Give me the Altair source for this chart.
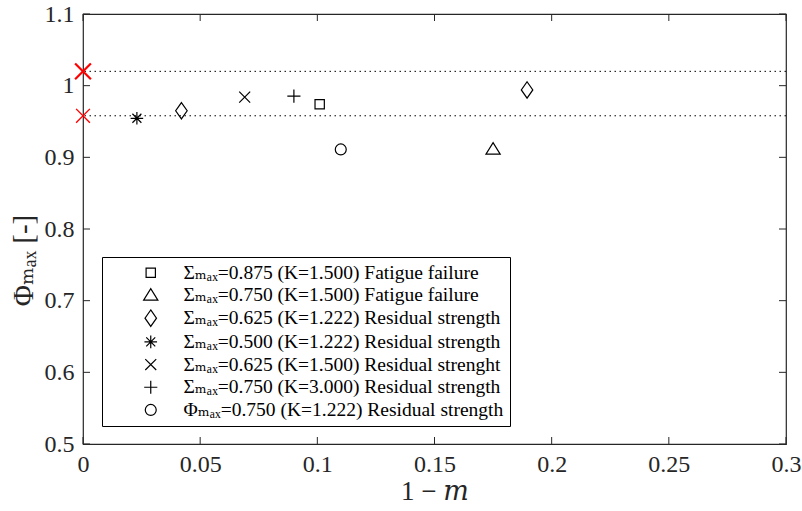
import altair as alt
import pandas as pd

# ---- data ----
series_labels = [
    "Σₘₐₓ=0.875 (K=1.500) Fatigue failure",
    "Σₘₐₓ=0.750 (K=1.500) Fatigue failure",
    "Σₘₐₓ=0.625 (K=1.222) Residual strength",
    "Σₘₐₓ=0.500 (K=1.222) Residual strength",
    "Σₘₐₓ=0.625 (K=1.500) Residual strenght",
    "Σₘₐₓ=0.750 (K=3.000) Residual strength",
    "Φₘₐₓ=0.750 (K=1.222) Residual strength",
]
point_series = [0, 1, 2, 2, 3, 4, 5, 6]
point_x = [0.101, 0.175, 0.042, 0.1895, 0.023, 0.069, 0.090, 0.110]
point_y = [0.974, 0.911, 0.965, 0.994, 0.9545, 0.984, 0.9855, 0.911]

ref_upper = [1.02]
ref_lower = [0.958]
ref_x = [0.0]

x_ticks = [0, 0.05, 0.1, 0.15, 0.2, 0.25, 0.3]
y_ticks = [0.5, 0.6, 0.7, 0.8, 0.9, 1.0, 1.1]

# marker shapes (unit box paths)
shape_paths = [
    "M-0.85,-0.85L0.85,-0.85L0.85,0.85L-0.85,0.85Z",                # square
    "M-1.3,0.85L1.3,0.85L0,-1.25Z",                                 # triangle
    "M0,-1.5L1.05,0L0,1.5L-1.05,0Z",                                # diamond
    "M-1.15,0L1.15,0M0,-1.15L0,1.15M-0.82,-0.82L0.82,0.82M-0.82,0.82L0.82,-0.82",  # asterisk
    "M-1,-1L1,1M-1,1L1,-1",                                         # x
    "M-1.2,0L1.2,0M0,-1.2L0,1.2",                                   # plus
    "circle",
]

W, H = 703, 430
FONT = "'Liberation Serif', 'Times New Roman', 'DejaVu Serif', serif"

pts = pd.DataFrame({
    "x": point_x,
    "y": point_y,
    "series": [series_labels[i] for i in point_series],
})
ref_df = pd.DataFrame({"y": ref_upper + ref_lower})
up_df = pd.DataFrame({"x": ref_x, "y": ref_upper})
lo_df = pd.DataFrame({"x": ref_x, "y": ref_lower})
xt = pd.DataFrame({"x": x_ticks})
yt = pd.DataFrame({"y": y_ticks})

xscale = alt.Scale(domain=[0, 0.3], nice=False, zero=False)
yscale = alt.Scale(domain=[0.5, 1.1], nice=False, zero=False)

xaxis = alt.Axis(values=x_ticks, format="~g", ticks=False, tickSize=0, domain=False, grid=False,
                 labelFlush=False, labelOverlap=False,
                 labelFont=FONT, labelFontSize=24, labelColor="#262626", labelPadding=8,
                 title="1 − 𝑚", titleFont=FONT, titleFontSize=27, titleFontWeight="normal",
                 titleColor="#262626", titlePadding=2)
yaxis = alt.Axis(values=y_ticks, format="~g", ticks=False, tickSize=0, domain=False, grid=False,
                 labelFlush=False, labelOverlap=False,
                 labelFont=FONT, labelFontSize=24, labelColor="#262626", labelPadding=9,
                 title="Φₘₐₓ  [-]", titleFont=FONT, titleFontSize=29, titleFontWeight="normal",
                 titleColor="#262626", titleAngle=-90, titleX=-60, titleY=246,
                 titleAlign="center", titleBaseline="middle")

dotted = alt.Chart(ref_df).mark_rule(color="black", strokeWidth=1, strokeDash=[1.5, 3.5]).encode(
    y=alt.Y("y:Q", scale=yscale, axis=yaxis)
)

points = alt.Chart(pts).mark_point(filled=False, color="black", strokeWidth=1.2, size=120, opacity=1).encode(
    x=alt.X("x:Q", scale=xscale, axis=xaxis),
    y=alt.Y("y:Q", scale=yscale),
    shape=alt.Shape("series:N", scale=alt.Scale(domain=series_labels, range=shape_paths),
                    legend=alt.Legend(title=None, orient="none", legendX=19, legendY=243,
                                      direction="vertical", strokeColor="black", fillColor="white",
                                      padding=6, labelFont=FONT, labelFontSize=19.5, labelColor="black",
                                      symbolStrokeColor="black", symbolStrokeWidth=1.2, symbolSize=120,
                                      symbolOffset=33, labelOffset=23, rowPadding=1.7, labelLimit=0,
                                      cornerRadius=0)),
)

xpath = "M-1,-1L1,1M-1,1L1,-1"
red_up = alt.Chart(up_df).mark_point(shape=xpath, filled=False, color="#ff0000", strokeWidth=2.2,
                                     size=250, opacity=1).encode(
    x=alt.X("x:Q", scale=xscale), y=alt.Y("y:Q", scale=yscale))
red_lo = alt.Chart(lo_df).mark_point(shape=xpath, filled=False, color="#ff0000", strokeWidth=1.4,
                                     size=190, opacity=1).encode(
    x=alt.X("x:Q", scale=xscale), y=alt.Y("y:Q", scale=yscale))

TL = 7
tick_bottom = alt.Chart(xt).mark_rule(color="#262626", strokeWidth=1).encode(
    x=alt.X("x:Q", scale=xscale), y=alt.value(H), y2=alt.value(H - TL))
tick_top = alt.Chart(xt).mark_rule(color="#262626", strokeWidth=1).encode(
    x=alt.X("x:Q", scale=xscale), y=alt.value(0), y2=alt.value(TL))
tick_left = alt.Chart(yt).mark_rule(color="#262626", strokeWidth=1).encode(
    y=alt.Y("y:Q", scale=yscale), x=alt.value(0), x2=alt.value(TL))
tick_right = alt.Chart(yt).mark_rule(color="#262626", strokeWidth=1).encode(
    y=alt.Y("y:Q", scale=yscale), x=alt.value(W), x2=alt.value(W - TL))

chart = alt.layer(
    dotted, tick_bottom, tick_top, tick_left, tick_right, points, red_up, red_lo
).properties(
    width=W, height=H,
    autosize=alt.AutoSizeParams(type="none"),
    padding={"left": 83, "top": 14, "right": 16, "bottom": 67},
    background="white",
).configure_view(
    stroke="#262626", strokeWidth=1.2
)

chart.save("out.html", embed_options={"renderer": "svg", "actions": False})
